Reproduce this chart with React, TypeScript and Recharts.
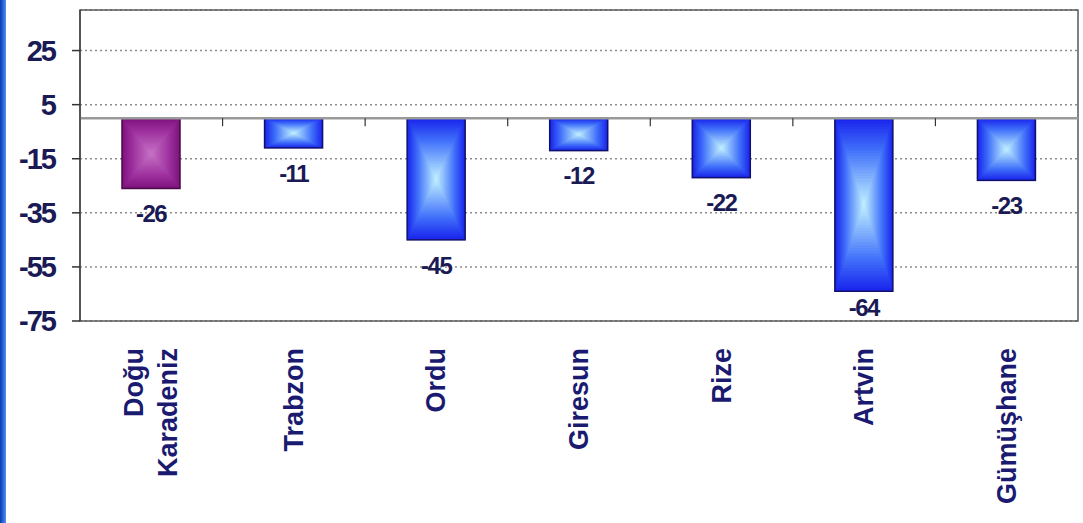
import React from "react";
import {
  Bar,
  BarChart,
  CartesianGrid,
  LabelList,
  ReferenceArea,
  ReferenceLine,
  XAxis,
  YAxis,
} from "recharts";

// bölgeler ve değişim (%) değerleri
const regions: string[] = [
  "Doğu Karadeniz",
  "Trabzon",
  "Ordu",
  "Giresun",
  "Rize",
  "Artvin",
  "Gümüşhane",
];
const changes: number[] = [-26, -11, -45, -12, -22, -64, -23];
const yTicks: number[] = [-75, -55, -35, -15, 5, 25];
const yDomain: [number, number] = [-75, 40];

const data = regions.map((name, i) => ({ name, value: changes[i] }));

const NAVY = "#1a1a55";
const NARROW = "'Liberation Sans Narrow', 'Arial Narrow', 'Liberation Sans', Arial, sans-serif";
const SANS = "'Liberation Sans', Arial, sans-serif";

// Excel "merkezden" dikdörtgen degrade: iç içe dikdörtgenler
const BLUE = { edge: [26, 38, 236], mid: [64, 112, 250], center: [196, 244, 255] };
const PURPLE = { edge: [126, 20, 126], mid: [158, 48, 158], center: [198, 116, 198] };

function mix(a: number[], b: number[], t: number) {
  return `rgb(${a.map((v, k) => Math.round(v + (b[k] - v) * t)).join(",")})`;
}

function GradientBar(props: any) {
  const { x, y, width, height, index } = props;
  const top = Math.min(y, y + height);
  const h = Math.abs(height);
  const pal = index === 0 ? PURPLE : BLUE;
  const steps = 30;
  const rects = [];
  for (let i = 0; i < steps; i++) {
    const t = i / steps;
    const ix = (width / 2) * t;
    const iy = (h / 2) * t;
    const c =
      t < 0.35
        ? mix(pal.edge, pal.mid, t / 0.35)
        : mix(pal.mid, pal.center, (t - 0.35) / 0.65);
    rects.push(
      <rect key={i} x={x + ix} y={top + iy} width={Math.max(width - 2 * ix, 0.5)} height={Math.max(h - 2 * iy, 0.5)} fill={c} />
    );
  }
  return (
    <g>
      {rects}
      <rect x={x} y={top} width={width} height={h} fill="none" stroke={index === 0 ? "#4a0a4a" : "#10106a"} strokeWidth={1.5} />
    </g>
  );
}

function ValueLabel(props: any) {
  const { x, y, width, height, value } = props;
  const bottom = Math.max(y, y + height);
  const cy = Math.min(bottom + 25, 307);
  return (
    <text
      x={x + width / 2}
      y={cy}
      dy="0.36em"
      textAnchor="middle"
      fill={NAVY}
      fontSize={24}
      fontWeight="bold"
      fontFamily={NARROW}
      letterSpacing={-1.5}
    >
      {value}
    </text>
  );
}

function CategoryTick(props: any) {
  const { x, y, payload } = props;
  const lines = String(payload.value).split(" ");
  const lh = 34;
  return (
    <text
      transform={`rotate(-90, ${x}, ${y})`}
      x={x}
      y={y}
      textAnchor="end"
      fill="#1a1a70"
      fontSize={27}
      fontWeight="bold"
      fontFamily={SANS}
    >
      {lines.map((ln, i) => (
        <tspan key={i} x={x} dy={i === 0 ? (-(lines.length - 1) * lh) / 2 + 9 : lh}>
          {ln}
        </tspan>
      ))}
    </text>
  );
}

function ZeroLine(props: any) {
  const { x1, x2, y1 } = props;
  const n = regions.length;
  const w = (x2 - x1) / n;
  const marks = [];
  for (let i = 1; i < n; i++) {
    const tx = x1 + w * i;
    marks.push(<line key={i} x1={tx} x2={tx} y1={y1} y2={y1 + 8} stroke="#333" strokeWidth={1.2} />);
  }
  return (
    <g>
      <line x1={x1} x2={x2} y1={y1} y2={y1} stroke="#9a9a9a" strokeWidth={2.5} />
      {marks}
    </g>
  );
}

export default function App() {
  return (
    <div style={{ position: "absolute", left: 0, top: 0, width: 1083, height: 523, background: "#fff" }}>
      <div
        style={{
          position: "absolute",
          left: 0,
          top: 0,
          width: 6,
          height: 523,
          background: "linear-gradient(to right, #0b3aa8, #2a6ee0 60%, #5a90f0)",
        }}
      />
      <BarChart
        width={1083}
        height={523}
        data={data}
        margin={{ top: 10, right: 5, bottom: 0, left: 0 }}
      >
        <CartesianGrid
          vertical={false}
          stroke="#8c8c8c"
          strokeDasharray="2 3"
          strokeWidth={1.5}
        />
        <ReferenceArea
          y1={yDomain[0]}
          y2={yDomain[1]}
          fill="none"
          stroke="#5a5a5a"
          strokeWidth={1.5}
          ifOverflow="visible"
        />
        <XAxis
          dataKey="name"
          height={202}
          axisLine={false}
          tickLine={false}
          tickSize={0}
          tickMargin={27}
          interval={0}
          tick={<CategoryTick />}
        />
        <YAxis
          width={80}
          domain={yDomain}
          ticks={yTicks}
          allowDataOverflow
          axisLine={{ stroke: "#444", strokeWidth: 1.5 }}
          tickLine={{ stroke: "#333", strokeWidth: 1.5 }}
          tickSize={8}
          tickMargin={17}
          tick={{ fill: NAVY, fontSize: 29, fontWeight: "bold", fontFamily: NARROW, letterSpacing: -2 }}
        />
        <ReferenceLine y={0} shape={<ZeroLine />} />
        <Bar dataKey="value" barSize={58} shape={<GradientBar />} isAnimationActive={false}>
          <LabelList dataKey="value" content={<ValueLabel />} />
        </Bar>
      </BarChart>
    </div>
  );
}
